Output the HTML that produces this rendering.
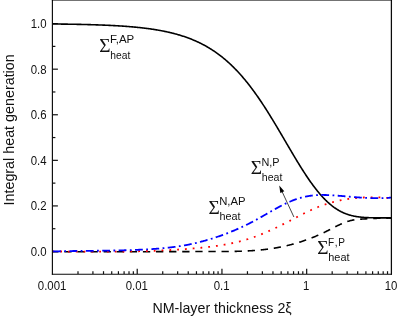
<!DOCTYPE html>
<html><head><meta charset="utf-8"><title>chart</title>
<style>
html,body{margin:0;padding:0;background:#fff;}
body{width:399px;height:317px;overflow:hidden;font-family:"Liberation Sans",sans-serif;}
svg{display:block;will-change:transform;}
text{font-family:"Liberation Sans",sans-serif;fill:#111;}
</style></head><body>
<svg width="399" height="317" viewBox="0 0 399 317">
<rect width="399" height="317" fill="#fff"/>
<g stroke="#111" stroke-width="1.2">
<line x1="137.22" y1="274.1" x2="137.22" y2="268.80"/>
<line x1="221.95" y1="274.1" x2="221.95" y2="268.80"/>
<line x1="306.67" y1="274.1" x2="306.67" y2="268.80"/>
<line x1="78.00" y1="274.1" x2="78.00" y2="271.20"/>
<line x1="92.92" y1="274.1" x2="92.92" y2="271.20"/>
<line x1="103.51" y1="274.1" x2="103.51" y2="271.20"/>
<line x1="111.72" y1="274.1" x2="111.72" y2="271.20"/>
<line x1="118.43" y1="274.1" x2="118.43" y2="271.20"/>
<line x1="124.10" y1="274.1" x2="124.10" y2="271.20"/>
<line x1="129.01" y1="274.1" x2="129.01" y2="271.20"/>
<line x1="133.35" y1="274.1" x2="133.35" y2="271.20"/>
<line x1="162.73" y1="274.1" x2="162.73" y2="271.20"/>
<line x1="177.65" y1="274.1" x2="177.65" y2="271.20"/>
<line x1="188.23" y1="274.1" x2="188.23" y2="271.20"/>
<line x1="196.45" y1="274.1" x2="196.45" y2="271.20"/>
<line x1="203.15" y1="274.1" x2="203.15" y2="271.20"/>
<line x1="208.83" y1="274.1" x2="208.83" y2="271.20"/>
<line x1="213.74" y1="274.1" x2="213.74" y2="271.20"/>
<line x1="218.07" y1="274.1" x2="218.07" y2="271.20"/>
<line x1="247.45" y1="274.1" x2="247.45" y2="271.20"/>
<line x1="262.37" y1="274.1" x2="262.37" y2="271.20"/>
<line x1="272.96" y1="274.1" x2="272.96" y2="271.20"/>
<line x1="281.17" y1="274.1" x2="281.17" y2="271.20"/>
<line x1="287.88" y1="274.1" x2="287.88" y2="271.20"/>
<line x1="293.55" y1="274.1" x2="293.55" y2="271.20"/>
<line x1="298.46" y1="274.1" x2="298.46" y2="271.20"/>
<line x1="302.80" y1="274.1" x2="302.80" y2="271.20"/>
<line x1="332.18" y1="274.1" x2="332.18" y2="271.20"/>
<line x1="347.10" y1="274.1" x2="347.10" y2="271.20"/>
<line x1="357.68" y1="274.1" x2="357.68" y2="271.20"/>
<line x1="365.90" y1="274.1" x2="365.90" y2="271.20"/>
<line x1="372.60" y1="274.1" x2="372.60" y2="271.20"/>
<line x1="378.28" y1="274.1" x2="378.28" y2="271.20"/>
<line x1="383.19" y1="274.1" x2="383.19" y2="271.20"/>
<line x1="387.52" y1="274.1" x2="387.52" y2="271.20"/>
<line x1="52.5" y1="251.50" x2="57.9" y2="251.50"/>
<line x1="52.5" y1="228.71" x2="55.4" y2="228.71"/>
<line x1="52.5" y1="205.92" x2="57.9" y2="205.92"/>
<line x1="52.5" y1="183.13" x2="55.4" y2="183.13"/>
<line x1="52.5" y1="160.34" x2="57.9" y2="160.34"/>
<line x1="52.5" y1="137.55" x2="55.4" y2="137.55"/>
<line x1="52.5" y1="114.76" x2="57.9" y2="114.76"/>
<line x1="52.5" y1="91.97" x2="55.4" y2="91.97"/>
<line x1="52.5" y1="69.18" x2="57.9" y2="69.18"/>
<line x1="52.5" y1="46.39" x2="55.4" y2="46.39"/>
<line x1="52.5" y1="23.60" x2="57.9" y2="23.60"/>
</g>
<g fill="none" stroke-linejoin="round">
<path d="M52.50,23.98 L53.18,23.99 L53.86,23.99 L54.54,24.00 L55.22,24.01 L55.90,24.02 L56.57,24.02 L57.25,24.03 L57.93,24.04 L58.61,24.05 L59.29,24.06 L59.97,24.06 L60.65,24.07 L61.33,24.08 L62.01,24.09 L62.69,24.10 L63.37,24.11 L64.05,24.12 L64.72,24.13 L65.40,24.14 L66.08,24.15 L66.76,24.16 L67.44,24.17 L68.12,24.18 L68.80,24.19 L69.48,24.20 L70.16,24.21 L70.84,24.22 L71.52,24.24 L72.20,24.25 L72.87,24.26 L73.55,24.27 L74.23,24.28 L74.91,24.30 L75.59,24.31 L76.27,24.32 L76.95,24.34 L77.63,24.35 L78.31,24.36 L78.99,24.38 L79.67,24.39 L80.35,24.41 L81.02,24.42 L81.70,24.44 L82.38,24.45 L83.06,24.47 L83.74,24.48 L84.42,24.50 L85.10,24.52 L85.78,24.53 L86.46,24.55 L87.14,24.57 L87.82,24.59 L88.50,24.61 L89.17,24.62 L89.85,24.64 L90.53,24.66 L91.21,24.68 L91.89,24.70 L92.57,24.72 L93.25,24.74 L93.93,24.77 L94.61,24.79 L95.29,24.81 L95.97,24.83 L96.65,24.85 L97.32,24.88 L98.00,24.90 L98.68,24.93 L99.36,24.95 L100.04,24.98 L100.72,25.00 L101.40,25.03 L102.08,25.05 L102.76,25.08 L103.44,25.11 L104.12,25.14 L104.80,25.16 L105.47,25.19 L106.15,25.22 L106.83,25.25 L107.51,25.28 L108.19,25.31 L108.87,25.35 L109.55,25.38 L110.23,25.41 L110.91,25.44 L111.59,25.48 L112.27,25.51 L112.95,25.55 L113.62,25.58 L114.30,25.62 L114.98,25.66 L115.66,25.70 L116.34,25.74 L117.02,25.77 L117.70,25.82 L118.38,25.86 L119.06,25.90 L119.74,25.94 L120.42,25.98 L121.09,26.03 L121.77,26.07 L122.45,26.12 L123.13,26.16 L123.81,26.21 L124.49,26.26 L125.17,26.31 L125.85,26.36 L126.53,26.41 L127.21,26.46 L127.89,26.51 L128.57,26.57 L129.24,26.62 L129.92,26.68 L130.60,26.73 L131.28,26.79 L131.96,26.85 L132.64,26.91 L133.32,26.97 L134.00,27.03 L134.68,27.10 L135.36,27.16 L136.04,27.23 L136.72,27.29 L137.39,27.36 L138.07,27.43 L138.75,27.50 L139.43,27.57 L140.11,27.65 L140.79,27.72 L141.47,27.80 L142.15,27.87 L142.83,27.95 L143.51,28.03 L144.19,28.11 L144.87,28.19 L145.54,28.28 L146.22,28.36 L146.90,28.45 L147.58,28.54 L148.26,28.63 L148.94,28.72 L149.62,28.82 L150.30,28.91 L150.98,29.01 L151.66,29.11 L152.34,29.21 L153.02,29.31 L153.69,29.41 L154.37,29.52 L155.05,29.63 L155.73,29.74 L156.41,29.85 L157.09,29.96 L157.77,30.08 L158.45,30.20 L159.13,30.32 L159.81,30.44 L160.49,30.56 L161.17,30.69 L161.84,30.82 L162.52,30.95 L163.20,31.08 L163.88,31.22 L164.56,31.35 L165.24,31.50 L165.92,31.64 L166.60,31.78 L167.28,31.93 L167.96,32.08 L168.64,32.23 L169.32,32.39 L169.99,32.55 L170.67,32.71 L171.35,32.87 L172.03,33.04 L172.71,33.21 L173.39,33.38 L174.07,33.56 L174.75,33.74 L175.43,33.92 L176.11,34.10 L176.79,34.29 L177.47,34.48 L178.14,34.68 L178.82,34.88 L179.50,35.08 L180.18,35.28 L180.86,35.49 L181.54,35.70 L182.22,35.92 L182.90,36.14 L183.58,36.36 L184.26,36.58 L184.94,36.81 L185.62,37.05 L186.29,37.29 L186.97,37.53 L187.65,37.77 L188.33,38.03 L189.01,38.28 L189.69,38.54 L190.37,38.80 L191.05,39.07 L191.73,39.34 L192.41,39.62 L193.09,39.90 L193.76,40.18 L194.44,40.47 L195.12,40.77 L195.80,41.06 L196.48,41.37 L197.16,41.68 L197.84,41.99 L198.52,42.31 L199.20,42.64 L199.88,42.97 L200.56,43.30 L201.24,43.64 L201.91,43.99 L202.59,44.34 L203.27,44.69 L203.95,45.05 L204.63,45.42 L205.31,45.80 L205.99,46.17 L206.67,46.56 L207.35,46.95 L208.03,47.35 L208.71,47.75 L209.39,48.16 L210.06,48.58 L210.74,49.00 L211.42,49.43 L212.10,49.86 L212.78,50.30 L213.46,50.75 L214.14,51.20 L214.82,51.66 L215.50,52.13 L216.18,52.61 L216.86,53.09 L217.54,53.58 L218.21,54.07 L218.89,54.58 L219.57,55.09 L220.25,55.60 L220.93,56.13 L221.61,56.66 L222.29,57.20 L222.97,57.75 L223.65,58.30 L224.33,58.86 L225.01,59.43 L225.69,60.01 L226.36,60.60 L227.04,61.19 L227.72,61.79 L228.40,62.40 L229.08,63.02 L229.76,63.64 L230.44,64.28 L231.12,64.92 L231.80,65.57 L232.48,66.23 L233.16,66.89 L233.84,67.57 L234.51,68.25 L235.19,68.94 L235.87,69.64 L236.55,70.35 L237.23,71.07 L237.91,71.79 L238.59,72.53 L239.27,73.27 L239.95,74.02 L240.63,74.78 L241.31,75.55 L241.99,76.33 L242.66,77.12 L243.34,77.91 L244.02,78.71 L244.70,79.53 L245.38,80.35 L246.06,81.17 L246.74,82.01 L247.42,82.86 L248.10,83.71 L248.78,84.58 L249.46,85.45 L250.14,86.33 L250.81,87.22 L251.49,88.12 L252.17,89.02 L252.85,89.94 L253.53,90.86 L254.21,91.79 L254.89,92.73 L255.57,93.68 L256.25,94.63 L256.93,95.59 L257.61,96.57 L258.28,97.54 L258.96,98.53 L259.64,99.52 L260.32,100.53 L261.00,101.53 L261.68,102.55 L262.36,103.57 L263.04,104.60 L263.72,105.64 L264.40,106.69 L265.08,107.74 L265.76,108.79 L266.43,109.86 L267.11,110.93 L267.79,112.00 L268.47,113.08 L269.15,114.17 L269.83,115.26 L270.51,116.36 L271.19,117.46 L271.87,118.57 L272.55,119.69 L273.23,120.80 L273.91,121.93 L274.58,123.05 L275.26,124.18 L275.94,125.32 L276.62,126.45 L277.30,127.60 L277.98,128.74 L278.66,129.89 L279.34,131.04 L280.02,132.19 L280.70,133.34 L281.38,134.50 L282.06,135.66 L282.73,136.81 L283.41,137.97 L284.09,139.13 L284.77,140.30 L285.45,141.46 L286.13,142.62 L286.81,143.78 L287.49,144.94 L288.17,146.10 L288.85,147.26 L289.53,148.42 L290.21,149.57 L290.88,150.72 L291.56,151.87 L292.24,153.02 L292.92,154.17 L293.60,155.31 L294.28,156.45 L294.96,157.58 L295.64,158.71 L296.32,159.84 L297.00,160.96 L297.68,162.08 L298.36,163.19 L299.03,164.29 L299.71,165.39 L300.39,166.48 L301.07,167.57 L301.75,168.65 L302.43,169.72 L303.11,170.79 L303.79,171.84 L304.47,172.89 L305.15,173.93 L305.83,174.96 L306.51,175.99 L307.18,177.00 L307.86,178.01 L308.54,179.00 L309.22,179.98 L309.90,180.96 L310.58,181.92 L311.26,182.88 L311.94,183.82 L312.62,184.75 L313.30,185.67 L313.98,186.58 L314.66,187.47 L315.33,188.35 L316.01,189.23 L316.69,190.08 L317.37,190.93 L318.05,191.76 L318.73,192.58 L319.41,193.39 L320.09,194.18 L320.77,194.96 L321.45,195.73 L322.13,196.48 L322.81,197.22 L323.48,197.94 L324.16,198.65 L324.84,199.34 L325.52,200.03 L326.20,200.69 L326.88,201.34 L327.56,201.98 L328.24,202.60 L328.92,203.21 L329.60,203.80 L330.28,204.38 L330.95,204.95 L331.63,205.50 L332.31,206.03 L332.99,206.55 L333.67,207.05 L334.35,207.55 L335.03,208.02 L335.71,208.48 L336.39,208.93 L337.07,209.36 L337.75,209.78 L338.43,210.19 L339.10,210.58 L339.78,210.96 L340.46,211.32 L341.14,211.68 L341.82,212.01 L342.50,212.34 L343.18,212.65 L343.86,212.95 L344.54,213.24 L345.22,213.51 L345.90,213.78 L346.58,214.03 L347.25,214.27 L347.93,214.50 L348.61,214.72 L349.29,214.93 L349.97,215.13 L350.65,215.32 L351.33,215.49 L352.01,215.66 L352.69,215.82 L353.37,215.97 L354.05,216.12 L354.73,216.25 L355.40,216.38 L356.08,216.50 L356.76,216.61 L357.44,216.71 L358.12,216.81 L358.80,216.90 L359.48,216.99 L360.16,217.07 L360.84,217.14 L361.52,217.21 L362.20,217.27 L362.88,217.33 L363.55,217.39 L364.23,217.44 L364.91,217.48 L365.59,217.52 L366.27,217.56 L366.95,217.60 L367.63,217.63 L368.31,217.66 L368.99,217.69 L369.67,217.71 L370.35,217.73 L371.03,217.75 L371.70,217.77 L372.38,217.79 L373.06,217.80 L373.74,217.81 L374.42,217.83 L375.10,217.84 L375.78,217.85 L376.46,217.85 L377.14,217.86 L377.82,217.87 L378.50,217.87 L379.18,217.88 L379.85,217.88 L380.53,217.89 L381.21,217.89 L381.89,217.89 L382.57,217.89 L383.25,217.90 L383.93,217.90 L384.61,217.90 L385.29,217.90 L385.97,217.90 L386.65,217.90 L387.33,217.90 L388.00,217.90 L388.68,217.91 L389.36,217.91 L390.04,217.91 L390.72,217.91 L391.40,217.91" stroke="#000" stroke-width="1.6"/>
<path d="M52.50,251.67 L53.18,251.68 L53.86,251.68 L54.54,251.68 L55.22,251.69 L55.90,251.69 L56.57,251.69 L57.25,251.70 L57.93,251.70 L58.61,251.70 L59.29,251.71 L59.97,251.71 L60.65,251.71 L61.33,251.72 L62.01,251.72 L62.69,251.72 L63.37,251.72 L64.05,251.73 L64.72,251.73 L65.40,251.73 L66.08,251.73 L66.76,251.74 L67.44,251.74 L68.12,251.74 L68.80,251.74 L69.48,251.75 L70.16,251.75 L70.84,251.75 L71.52,251.75 L72.20,251.75 L72.87,251.76 L73.55,251.76 L74.23,251.76 L74.91,251.76 L75.59,251.76 L76.27,251.76 L76.95,251.76 L77.63,251.77 L78.31,251.77 L78.99,251.77 L79.67,251.77 L80.35,251.77 L81.02,251.77 L81.70,251.77 L82.38,251.77 L83.06,251.78 L83.74,251.78 L84.42,251.78 L85.10,251.78 L85.78,251.78 L86.46,251.78 L87.14,251.78 L87.82,251.78 L88.50,251.78 L89.17,251.78 L89.85,251.78 L90.53,251.78 L91.21,251.78 L91.89,251.78 L92.57,251.78 L93.25,251.79 L93.93,251.79 L94.61,251.79 L95.29,251.79 L95.97,251.79 L96.65,251.79 L97.32,251.79 L98.00,251.79 L98.68,251.79 L99.36,251.79 L100.04,251.79 L100.72,251.79 L101.40,251.78 L102.08,251.78 L102.76,251.78 L103.44,251.78 L104.12,251.78 L104.80,251.78 L105.47,251.78 L106.15,251.78 L106.83,251.78 L107.51,251.78 L108.19,251.78 L108.87,251.78 L109.55,251.78 L110.23,251.78 L110.91,251.78 L111.59,251.78 L112.27,251.78 L112.95,251.77 L113.62,251.77 L114.30,251.77 L114.98,251.77 L115.66,251.77 L116.34,251.77 L117.02,251.77 L117.70,251.77 L118.38,251.77 L119.06,251.77 L119.74,251.76 L120.42,251.76 L121.09,251.76 L121.77,251.76 L122.45,251.76 L123.13,251.76 L123.81,251.76 L124.49,251.76 L125.17,251.75 L125.85,251.75 L126.53,251.75 L127.21,251.75 L127.89,251.75 L128.57,251.75 L129.24,251.75 L129.92,251.74 L130.60,251.74 L131.28,251.74 L131.96,251.74 L132.64,251.74 L133.32,251.74 L134.00,251.73 L134.68,251.73 L135.36,251.73 L136.04,251.73 L136.72,251.73 L137.39,251.73 L138.07,251.72 L138.75,251.72 L139.43,251.72 L140.11,251.72 L140.79,251.72 L141.47,251.72 L142.15,251.71 L142.83,251.71 L143.51,251.71 L144.19,251.71 L144.87,251.71 L145.54,251.70 L146.22,251.70 L146.90,251.70 L147.58,251.70 L148.26,251.70 L148.94,251.69 L149.62,251.69 L150.30,251.69 L150.98,251.69 L151.66,251.69 L152.34,251.68 L153.02,251.68 L153.69,251.68 L154.37,251.68 L155.05,251.68 L155.73,251.67 L156.41,251.67 L157.09,251.67 L157.77,251.67 L158.45,251.67 L159.13,251.66 L159.81,251.66 L160.49,251.66 L161.17,251.66 L161.84,251.66 L162.52,251.65 L163.20,251.65 L163.88,251.65 L164.56,251.65 L165.24,251.65 L165.92,251.65 L166.60,251.64 L167.28,251.64 L167.96,251.64 L168.64,251.64 L169.32,251.64 L169.99,251.63 L170.67,251.63 L171.35,251.63 L172.03,251.63 L172.71,251.63 L173.39,251.62 L174.07,251.62 L174.75,251.62 L175.43,251.62 L176.11,251.62 L176.79,251.61 L177.47,251.61 L178.14,251.61 L178.82,251.61 L179.50,251.61 L180.18,251.61 L180.86,251.60 L181.54,251.60 L182.22,251.60 L182.90,251.60 L183.58,251.60 L184.26,251.59 L184.94,251.59 L185.62,251.59 L186.29,251.59 L186.97,251.59 L187.65,251.59 L188.33,251.59 L189.01,251.58 L189.69,251.58 L190.37,251.58 L191.05,251.58 L191.73,251.58 L192.41,251.58 L193.09,251.57 L193.76,251.57 L194.44,251.57 L195.12,251.57 L195.80,251.57 L196.48,251.57 L197.16,251.57 L197.84,251.57 L198.52,251.56 L199.20,251.56 L199.88,251.56 L200.56,251.56 L201.24,251.56 L201.91,251.56 L202.59,251.56 L203.27,251.56 L203.95,251.55 L204.63,251.55 L205.31,251.55 L205.99,251.55 L206.67,251.55 L207.35,251.55 L208.03,251.55 L208.71,251.55 L209.39,251.55 L210.06,251.55 L210.74,251.55 L211.42,251.55 L212.10,251.54 L212.78,251.54 L213.46,251.54 L214.14,251.54 L214.82,251.54 L215.50,251.54 L216.18,251.54 L216.86,251.54 L217.54,251.54 L218.21,251.54 L218.89,251.54 L219.57,251.53 L220.25,251.53 L220.93,251.53 L221.61,251.53 L222.29,251.52 L222.97,251.52 L223.65,251.52 L224.33,251.51 L225.01,251.51 L225.69,251.50 L226.36,251.50 L227.04,251.49 L227.72,251.48 L228.40,251.48 L229.08,251.47 L229.76,251.46 L230.44,251.45 L231.12,251.44 L231.80,251.43 L232.48,251.42 L233.16,251.41 L233.84,251.39 L234.51,251.38 L235.19,251.36 L235.87,251.35 L236.55,251.33 L237.23,251.31 L237.91,251.30 L238.59,251.28 L239.27,251.26 L239.95,251.23 L240.63,251.21 L241.31,251.19 L241.99,251.16 L242.66,251.14 L243.34,251.11 L244.02,251.08 L244.70,251.05 L245.38,251.02 L246.06,250.99 L246.74,250.95 L247.42,250.92 L248.10,250.88 L248.78,250.85 L249.46,250.81 L250.14,250.77 L250.81,250.72 L251.49,250.68 L252.17,250.64 L252.85,250.59 L253.53,250.54 L254.21,250.49 L254.89,250.44 L255.57,250.39 L256.25,250.33 L256.93,250.27 L257.61,250.21 L258.28,250.15 L258.96,250.09 L259.64,250.03 L260.32,249.96 L261.00,249.89 L261.68,249.83 L262.36,249.75 L263.04,249.68 L263.72,249.60 L264.40,249.53 L265.08,249.45 L265.76,249.37 L266.43,249.28 L267.11,249.20 L267.79,249.11 L268.47,249.02 L269.15,248.92 L269.83,248.83 L270.51,248.73 L271.19,248.63 L271.87,248.53 L272.55,248.43 L273.23,248.32 L273.91,248.21 L274.58,248.10 L275.26,247.99 L275.94,247.87 L276.62,247.75 L277.30,247.63 L277.98,247.51 L278.66,247.38 L279.34,247.25 L280.02,247.12 L280.70,246.99 L281.38,246.85 L282.06,246.71 L282.73,246.57 L283.41,246.42 L284.09,246.27 L284.77,246.12 L285.45,245.97 L286.13,245.82 L286.81,245.66 L287.49,245.50 L288.17,245.33 L288.85,245.17 L289.53,245.00 L290.21,244.83 L290.88,244.65 L291.56,244.47 L292.24,244.29 L292.92,244.11 L293.60,243.92 L294.28,243.73 L294.96,243.54 L295.64,243.35 L296.32,243.15 L297.00,242.95 L297.68,242.75 L298.36,242.54 L299.03,242.33 L299.71,242.12 L300.39,241.90 L301.07,241.69 L301.75,241.47 L302.43,241.24 L303.11,241.02 L303.79,240.79 L304.47,240.55 L305.15,240.32 L305.83,240.08 L306.51,239.84 L307.18,239.59 L307.86,239.34 L308.54,239.09 L309.22,238.84 L309.90,238.58 L310.58,238.32 L311.26,238.05 L311.94,237.79 L312.62,237.52 L313.30,237.24 L313.98,236.97 L314.66,236.69 L315.33,236.40 L316.01,236.12 L316.69,235.83 L317.37,235.54 L318.05,235.24 L318.73,234.94 L319.41,234.64 L320.09,234.33 L320.77,234.02 L321.45,233.71 L322.13,233.40 L322.81,233.08 L323.48,232.75 L324.16,232.43 L324.84,232.10 L325.52,231.77 L326.20,231.43 L326.88,231.09 L327.56,230.75 L328.24,230.41 L328.92,230.06 L329.60,229.71 L330.28,229.36 L330.95,229.01 L331.63,228.66 L332.31,228.31 L332.99,227.96 L333.67,227.61 L334.35,227.27 L335.03,226.92 L335.71,226.58 L336.39,226.24 L337.07,225.90 L337.75,225.57 L338.43,225.24 L339.10,224.92 L339.78,224.60 L340.46,224.29 L341.14,223.98 L341.82,223.68 L342.50,223.39 L343.18,223.11 L343.86,222.83 L344.54,222.56 L345.22,222.30 L345.90,222.05 L346.58,221.81 L347.25,221.58 L347.93,221.36 L348.61,221.15 L349.29,220.95 L349.97,220.76 L350.65,220.59 L351.33,220.43 L352.01,220.28 L352.69,220.14 L353.37,220.02 L354.05,219.90 L354.73,219.79 L355.40,219.70 L356.08,219.61 L356.76,219.53 L357.44,219.45 L358.12,219.38 L358.80,219.32 L359.48,219.26 L360.16,219.21 L360.84,219.16 L361.52,219.11 L362.20,219.07 L362.88,219.03 L363.55,218.98 L364.23,218.94 L364.91,218.90 L365.59,218.86 L366.27,218.83 L366.95,218.79 L367.63,218.75 L368.31,218.71 L368.99,218.68 L369.67,218.64 L370.35,218.60 L371.03,218.57 L371.70,218.54 L372.38,218.50 L373.06,218.47 L373.74,218.44 L374.42,218.41 L375.10,218.38 L375.78,218.36 L376.46,218.33 L377.14,218.30 L377.82,218.28 L378.50,218.26 L379.18,218.23 L379.85,218.21 L380.53,218.19 L381.21,218.18 L381.89,218.16 L382.57,218.14 L383.25,218.13 L383.93,218.12 L384.61,218.11 L385.29,218.10 L385.97,218.09 L386.65,218.08 L387.33,218.08 L388.00,218.07 L388.68,218.07 L389.36,218.07 L390.04,218.08 L390.72,218.08 L391.40,218.09" stroke="#000" stroke-width="1.6" stroke-dasharray="7.3 5.8" stroke-dashoffset="1.29"/>
<path d="M391.40,198.17 L390.72,198.11 L390.04,198.06 L389.36,198.01 L388.68,197.96 L388.00,197.91 L387.33,197.86 L386.65,197.82 L385.97,197.77 L385.29,197.73 L384.61,197.69 L383.93,197.65 L383.25,197.61 L382.57,197.58 L381.89,197.55 L381.21,197.52 L380.53,197.49 L379.85,197.46 L379.18,197.44 L378.50,197.41 L377.82,197.39 L377.14,197.38 L376.46,197.36 L375.78,197.35 L375.10,197.33 L374.42,197.33 L373.74,197.32 L373.06,197.31 L372.38,197.31 L371.70,197.31 L371.03,197.31 L370.35,197.32 L369.67,197.32 L368.99,197.33 L368.31,197.35 L367.63,197.36 L366.95,197.38 L366.27,197.40 L365.59,197.42 L364.91,197.44 L364.23,197.47 L363.55,197.50 L362.88,197.54 L362.20,197.57 L361.52,197.61 L360.84,197.65 L360.16,197.69 L359.48,197.74 L358.80,197.79 L358.12,197.84 L357.44,197.90 L356.76,197.96 L356.08,198.02 L355.40,198.08 L354.73,198.15 L354.05,198.22 L353.37,198.29 L352.69,198.37 L352.01,198.45 L351.33,198.53 L350.65,198.62 L349.97,198.71 L349.29,198.80 L348.61,198.90 L347.93,199.00 L347.25,199.10 L346.58,199.20 L345.90,199.31 L345.22,199.43 L344.54,199.54 L343.86,199.66 L343.18,199.78 L342.50,199.91 L341.82,200.04 L341.14,200.17 L340.46,200.31 L339.78,200.45 L339.10,200.60 L338.43,200.75 L337.75,200.90 L337.07,201.05 L336.39,201.21 L335.71,201.37 L335.03,201.54 L334.35,201.71 L333.67,201.89 L332.99,202.07 L332.31,202.25 L331.63,202.43 L330.95,202.62 L330.28,202.82 L329.60,203.02 L328.92,203.22 L328.24,203.43 L327.56,203.64 L326.88,203.85 L326.20,204.07 L325.52,204.29 L324.84,204.52 L324.16,204.75 L323.48,204.99 L322.81,205.23 L322.13,205.47 L321.45,205.72 L320.77,205.97 L320.09,206.23 L319.41,206.49 L318.73,206.76 L318.05,207.03 L317.37,207.30 L316.69,207.58 L316.01,207.87 L315.33,208.16 L314.66,208.45 L313.98,208.74 L313.30,209.04 L312.62,209.35 L311.94,209.66 L311.26,209.97 L310.58,210.28 L309.90,210.60 L309.22,210.92 L308.54,211.24 L307.86,211.57 L307.18,211.90 L306.51,212.23 L305.83,212.56 L305.15,212.90 L304.47,213.23 L303.79,213.57 L303.11,213.91 L302.43,214.26 L301.75,214.60 L301.07,214.95 L300.39,215.30 L299.71,215.65 L299.03,216.00 L298.36,216.35 L297.68,216.70 L297.00,217.05 L296.32,217.41 L295.64,217.76 L294.96,218.12 L294.28,218.47 L293.60,218.82 L292.92,219.18 L292.24,219.53 L291.56,219.89 L290.88,220.24 L290.21,220.60 L289.53,220.95 L288.85,221.30 L288.17,221.65 L287.49,222.00 L286.81,222.35 L286.13,222.70 L285.45,223.05 L284.77,223.39 L284.09,223.74 L283.41,224.08 L282.73,224.42 L282.06,224.77 L281.38,225.11 L280.70,225.44 L280.02,225.78 L279.34,226.12 L278.66,226.45 L277.98,226.78 L277.30,227.12 L276.62,227.45 L275.94,227.77 L275.26,228.10 L274.58,228.42 L273.91,228.74 L273.23,229.06 L272.55,229.38 L271.87,229.70 L271.19,230.01 L270.51,230.32 L269.83,230.63 L269.15,230.94 L268.47,231.24 L267.79,231.55 L267.11,231.84 L266.43,232.14 L265.76,232.44 L265.08,232.73 L264.40,233.02 L263.72,233.30 L263.04,233.59 L262.36,233.87 L261.68,234.15 L261.00,234.42 L260.32,234.69 L259.64,234.96 L258.96,235.23 L258.28,235.49 L257.61,235.75 L256.93,236.01 L256.25,236.26 L255.57,236.51 L254.89,236.76 L254.21,237.00 L253.53,237.24 L252.85,237.47 L252.17,237.71 L251.49,237.94 L250.81,238.16 L250.14,238.38 L249.46,238.60 L248.78,238.82 L248.10,239.03 L247.42,239.24 L246.74,239.45 L246.06,239.65 L245.38,239.85 L244.70,240.05 L244.02,240.24 L243.34,240.43 L242.66,240.62 L241.99,240.81 L241.31,240.99 L240.63,241.17 L239.95,241.34 L239.27,241.52 L238.59,241.69 L237.91,241.86 L237.23,242.02 L236.55,242.18 L235.87,242.35 L235.19,242.50 L234.51,242.66 L233.84,242.81 L233.16,242.96 L232.48,243.11 L231.80,243.25 L231.12,243.39 L230.44,243.53 L229.76,243.67 L229.08,243.81 L228.40,243.94 L227.72,244.07 L227.04,244.20 L226.36,244.33 L225.69,244.45 L225.01,244.57 L224.33,244.69 L223.65,244.81 L222.97,244.93 L222.29,245.04 L221.61,245.15 L220.93,245.26 L220.25,245.37 L219.57,245.47 L218.89,245.58 L218.21,245.68 L217.54,245.78 L216.86,245.88 L216.18,245.98 L215.50,246.07 L214.82,246.17 L214.14,246.26 L213.46,246.35 L212.78,246.44 L212.10,246.52 L211.42,246.61 L210.74,246.69 L210.06,246.78 L209.39,246.86 L208.71,246.94 L208.03,247.02 L207.35,247.09 L206.67,247.17 L205.99,247.25 L205.31,247.32 L204.63,247.39 L203.95,247.46 L203.27,247.53 L202.59,247.60 L201.91,247.67 L201.24,247.74 L200.56,247.80 L199.88,247.87 L199.20,247.93 L198.52,247.99 L197.84,248.06 L197.16,248.12 L196.48,248.18 L195.80,248.24 L195.12,248.30 L194.44,248.35 L193.76,248.41 L193.09,248.47 L192.41,248.52 L191.73,248.58 L191.05,248.63 L190.37,248.69 L189.69,248.74 L189.01,248.79 L188.33,248.85 L187.65,248.90 L186.97,248.95 L186.29,249.00 L185.62,249.05 L184.94,249.10 L184.26,249.15 L183.58,249.20 L182.90,249.24 L182.22,249.29 L181.54,249.34 L180.86,249.38 L180.18,249.43 L179.50,249.47 L178.82,249.52 L178.14,249.56 L177.47,249.60 L176.79,249.65 L176.11,249.69 L175.43,249.73 L174.75,249.77 L174.07,249.81 L173.39,249.85 L172.71,249.89 L172.03,249.93 L171.35,249.97 L170.67,250.00 L169.99,250.04 L169.32,250.08 L168.64,250.11 L167.96,250.15 L167.28,250.18 L166.60,250.22 L165.92,250.25 L165.24,250.29 L164.56,250.32 L163.88,250.35 L163.20,250.38 L162.52,250.41 L161.84,250.45 L161.17,250.48 L160.49,250.51 L159.81,250.54 L159.13,250.56 L158.45,250.59 L157.77,250.62 L157.09,250.65 L156.41,250.68 L155.73,250.70 L155.05,250.73 L154.37,250.76 L153.69,250.78 L153.02,250.81 L152.34,250.83 L151.66,250.85 L150.98,250.88 L150.30,250.90 L149.62,250.92 L148.94,250.95 L148.26,250.97 L147.58,250.99 L146.90,251.01 L146.22,251.03 L145.54,251.05 L144.87,251.07 L144.19,251.09 L143.51,251.11 L142.83,251.13 L142.15,251.15 L141.47,251.17 L140.79,251.18 L140.11,251.20 L139.43,251.22 L138.75,251.23 L138.07,251.25 L137.39,251.27 L136.72,251.28 L136.04,251.30 L135.36,251.31 L134.68,251.33 L134.00,251.34 L133.32,251.35 L132.64,251.37 L131.96,251.38 L131.28,251.39 L130.60,251.40 L129.92,251.42 L129.24,251.43 L128.57,251.44 L127.89,251.45 L127.21,251.46 L126.53,251.47 L125.85,251.48 L125.17,251.49 L124.49,251.50 L123.81,251.51 L123.13,251.52 L122.45,251.53 L121.77,251.53 L121.09,251.54 L120.42,251.55 L119.74,251.56 L119.06,251.56 L118.38,251.57 L117.70,251.58 L117.02,251.58 L116.34,251.59 L115.66,251.60 L114.98,251.60 L114.30,251.61 L113.62,251.61 L112.95,251.62 L112.27,251.62 L111.59,251.63 L110.91,251.63 L110.23,251.63 L109.55,251.64 L108.87,251.64 L108.19,251.64 L107.51,251.65 L106.83,251.65 L106.15,251.65 L105.47,251.65 L104.80,251.66 L104.12,251.66 L103.44,251.66 L102.76,251.66 L102.08,251.66 L101.40,251.66 L100.72,251.66 L100.04,251.66 L99.36,251.66 L98.68,251.66 L98.00,251.67 L97.32,251.67 L96.65,251.66 L95.97,251.66 L95.29,251.66 L94.61,251.66 L93.93,251.66 L93.25,251.66 L92.57,251.66 L91.89,251.66 L91.21,251.66 L90.53,251.66 L89.85,251.65 L89.17,251.65 L88.50,251.65 L87.82,251.65 L87.14,251.65 L86.46,251.64 L85.78,251.64 L85.10,251.64 L84.42,251.64 L83.74,251.63 L83.06,251.63 L82.38,251.63 L81.70,251.62 L81.02,251.62 L80.35,251.62 L79.67,251.61 L78.99,251.61 L78.31,251.61 L77.63,251.60 L76.95,251.60 L76.27,251.60 L75.59,251.59 L74.91,251.59 L74.23,251.59 L73.55,251.58 L72.87,251.58 L72.20,251.57 L71.52,251.57 L70.84,251.57 L70.16,251.56 L69.48,251.56 L68.80,251.55 L68.12,251.55 L67.44,251.54 L66.76,251.54 L66.08,251.54 L65.40,251.53 L64.72,251.53 L64.05,251.52 L63.37,251.52 L62.69,251.51 L62.01,251.51 L61.33,251.50 L60.65,251.50 L59.97,251.50 L59.29,251.49 L58.61,251.49 L57.93,251.48 L57.25,251.48 L56.57,251.47 L55.90,251.47 L55.22,251.47 L54.54,251.46 L53.86,251.46 L53.18,251.45 L52.50,251.45" stroke="#ff0000" stroke-width="1.8" stroke-dasharray="1.8 6.0" stroke-dashoffset="4.48"/>
<path d="M391.40,197.56 L390.72,197.62 L390.04,197.68 L389.36,197.74 L388.68,197.80 L388.00,197.85 L387.33,197.89 L386.65,197.94 L385.97,197.98 L385.29,198.01 L384.61,198.05 L383.93,198.08 L383.25,198.10 L382.57,198.13 L381.89,198.15 L381.21,198.17 L380.53,198.18 L379.85,198.19 L379.18,198.20 L378.50,198.21 L377.82,198.21 L377.14,198.21 L376.46,198.21 L375.78,198.21 L375.10,198.20 L374.42,198.19 L373.74,198.18 L373.06,198.17 L372.38,198.15 L371.70,198.13 L371.03,198.11 L370.35,198.09 L369.67,198.07 L368.99,198.04 L368.31,198.01 L367.63,197.98 L366.95,197.95 L366.27,197.92 L365.59,197.88 L364.91,197.85 L364.23,197.81 L363.55,197.77 L362.88,197.73 L362.20,197.68 L361.52,197.64 L360.84,197.59 L360.16,197.55 L359.48,197.50 L358.80,197.45 L358.12,197.40 L357.44,197.35 L356.76,197.30 L356.08,197.24 L355.40,197.19 L354.73,197.13 L354.05,197.08 L353.37,197.02 L352.69,196.97 L352.01,196.91 L351.33,196.85 L350.65,196.79 L349.97,196.73 L349.29,196.68 L348.61,196.62 L347.93,196.56 L347.25,196.50 L346.58,196.44 L345.90,196.38 L345.22,196.32 L344.54,196.26 L343.86,196.20 L343.18,196.14 L342.50,196.08 L341.82,196.02 L341.14,195.96 L340.46,195.91 L339.78,195.85 L339.10,195.79 L338.43,195.74 L337.75,195.68 L337.07,195.63 L336.39,195.57 L335.71,195.52 L335.03,195.47 L334.35,195.42 L333.67,195.38 L332.99,195.33 L332.31,195.29 L331.63,195.25 L330.95,195.21 L330.28,195.17 L329.60,195.14 L328.92,195.11 L328.24,195.08 L327.56,195.05 L326.88,195.03 L326.20,195.01 L325.52,195.00 L324.84,194.98 L324.16,194.98 L323.48,194.97 L322.81,194.97 L322.13,194.97 L321.45,194.98 L320.77,194.99 L320.09,195.00 L319.41,195.02 L318.73,195.05 L318.05,195.08 L317.37,195.11 L316.69,195.15 L316.01,195.20 L315.33,195.25 L314.66,195.30 L313.98,195.36 L313.30,195.43 L312.62,195.50 L311.94,195.58 L311.26,195.66 L310.58,195.75 L309.90,195.85 L309.22,195.95 L308.54,196.06 L307.86,196.18 L307.18,196.30 L306.51,196.43 L305.83,196.57 L305.15,196.71 L304.47,196.86 L303.79,197.02 L303.11,197.18 L302.43,197.35 L301.75,197.53 L301.07,197.71 L300.39,197.90 L299.71,198.10 L299.03,198.30 L298.36,198.51 L297.68,198.72 L297.00,198.95 L296.32,199.18 L295.64,199.41 L294.96,199.65 L294.28,199.90 L293.60,200.16 L292.92,200.42 L292.24,200.68 L291.56,200.96 L290.88,201.24 L290.21,201.52 L289.53,201.82 L288.85,202.11 L288.17,202.42 L287.49,202.72 L286.81,203.04 L286.13,203.36 L285.45,203.68 L284.77,204.01 L284.09,204.34 L283.41,204.68 L282.73,205.02 L282.06,205.36 L281.38,205.71 L280.70,206.07 L280.02,206.42 L279.34,206.78 L278.66,207.15 L277.98,207.51 L277.30,207.88 L276.62,208.25 L275.94,208.63 L275.26,209.00 L274.58,209.38 L273.91,209.76 L273.23,210.14 L272.55,210.53 L271.87,210.91 L271.19,211.30 L270.51,211.69 L269.83,212.07 L269.15,212.46 L268.47,212.85 L267.79,213.24 L267.11,213.63 L266.43,214.02 L265.76,214.41 L265.08,214.80 L264.40,215.19 L263.72,215.57 L263.04,215.96 L262.36,216.34 L261.68,216.73 L261.00,217.11 L260.32,217.49 L259.64,217.87 L258.96,218.25 L258.28,218.63 L257.61,219.00 L256.93,219.38 L256.25,219.75 L255.57,220.12 L254.89,220.49 L254.21,220.85 L253.53,221.22 L252.85,221.58 L252.17,221.94 L251.49,222.29 L250.81,222.65 L250.14,223.00 L249.46,223.35 L248.78,223.69 L248.10,224.04 L247.42,224.37 L246.74,224.71 L246.06,225.05 L245.38,225.38 L244.70,225.70 L244.02,226.03 L243.34,226.35 L242.66,226.67 L241.99,226.99 L241.31,227.30 L240.63,227.62 L239.95,227.93 L239.27,228.23 L238.59,228.54 L237.91,228.84 L237.23,229.14 L236.55,229.43 L235.87,229.73 L235.19,230.02 L234.51,230.31 L233.84,230.59 L233.16,230.88 L232.48,231.16 L231.80,231.44 L231.12,231.71 L230.44,231.99 L229.76,232.26 L229.08,232.53 L228.40,232.79 L227.72,233.06 L227.04,233.32 L226.36,233.58 L225.69,233.84 L225.01,234.09 L224.33,234.34 L223.65,234.60 L222.97,234.84 L222.29,235.09 L221.61,235.33 L220.93,235.58 L220.25,235.82 L219.57,236.06 L218.89,236.29 L218.21,236.52 L217.54,236.76 L216.86,236.99 L216.18,237.21 L215.50,237.44 L214.82,237.66 L214.14,237.88 L213.46,238.10 L212.78,238.32 L212.10,238.53 L211.42,238.75 L210.74,238.96 L210.06,239.16 L209.39,239.37 L208.71,239.57 L208.03,239.78 L207.35,239.97 L206.67,240.17 L205.99,240.37 L205.31,240.56 L204.63,240.75 L203.95,240.94 L203.27,241.12 L202.59,241.31 L201.91,241.49 L201.24,241.67 L200.56,241.85 L199.88,242.02 L199.20,242.19 L198.52,242.36 L197.84,242.53 L197.16,242.70 L196.48,242.86 L195.80,243.02 L195.12,243.18 L194.44,243.34 L193.76,243.49 L193.09,243.64 L192.41,243.79 L191.73,243.94 L191.05,244.09 L190.37,244.23 L189.69,244.37 L189.01,244.51 L188.33,244.64 L187.65,244.78 L186.97,244.91 L186.29,245.04 L185.62,245.16 L184.94,245.29 L184.26,245.41 L183.58,245.53 L182.90,245.64 L182.22,245.76 L181.54,245.87 L180.86,245.98 L180.18,246.09 L179.50,246.20 L178.82,246.30 L178.14,246.40 L177.47,246.50 L176.79,246.60 L176.11,246.70 L175.43,246.79 L174.75,246.88 L174.07,246.97 L173.39,247.06 L172.71,247.15 L172.03,247.23 L171.35,247.32 L170.67,247.40 L169.99,247.48 L169.32,247.56 L168.64,247.63 L167.96,247.71 L167.28,247.78 L166.60,247.85 L165.92,247.92 L165.24,247.99 L164.56,248.06 L163.88,248.13 L163.20,248.19 L162.52,248.25 L161.84,248.31 L161.17,248.37 L160.49,248.43 L159.81,248.49 L159.13,248.55 L158.45,248.60 L157.77,248.65 L157.09,248.71 L156.41,248.76 L155.73,248.81 L155.05,248.86 L154.37,248.91 L153.69,248.95 L153.02,249.00 L152.34,249.04 L151.66,249.09 L150.98,249.13 L150.30,249.17 L149.62,249.21 L148.94,249.25 L148.26,249.29 L147.58,249.33 L146.90,249.37 L146.22,249.41 L145.54,249.44 L144.87,249.48 L144.19,249.52 L143.51,249.55 L142.83,249.58 L142.15,249.62 L141.47,249.65 L140.79,249.68 L140.11,249.71 L139.43,249.74 L138.75,249.77 L138.07,249.80 L137.39,249.83 L136.72,249.86 L136.04,249.88 L135.36,249.91 L134.68,249.94 L134.00,249.96 L133.32,249.99 L132.64,250.01 L131.96,250.04 L131.28,250.06 L130.60,250.08 L129.92,250.11 L129.24,250.13 L128.57,250.15 L127.89,250.17 L127.21,250.19 L126.53,250.21 L125.85,250.23 L125.17,250.25 L124.49,250.27 L123.81,250.28 L123.13,250.30 L122.45,250.32 L121.77,250.34 L121.09,250.35 L120.42,250.37 L119.74,250.38 L119.06,250.40 L118.38,250.41 L117.70,250.43 L117.02,250.44 L116.34,250.46 L115.66,250.47 L114.98,250.48 L114.30,250.50 L113.62,250.51 L112.95,250.52 L112.27,250.53 L111.59,250.54 L110.91,250.56 L110.23,250.57 L109.55,250.58 L108.87,250.59 L108.19,250.60 L107.51,250.61 L106.83,250.62 L106.15,250.63 L105.47,250.64 L104.80,250.65 L104.12,250.66 L103.44,250.66 L102.76,250.67 L102.08,250.68 L101.40,250.69 L100.72,250.70 L100.04,250.71 L99.36,250.71 L98.68,250.72 L98.00,250.73 L97.32,250.74 L96.65,250.75 L95.97,250.75 L95.29,250.76 L94.61,250.77 L93.93,250.78 L93.25,250.78 L92.57,250.79 L91.89,250.80 L91.21,250.80 L90.53,250.81 L89.85,250.82 L89.17,250.83 L88.50,250.83 L87.82,250.84 L87.14,250.85 L86.46,250.85 L85.78,250.86 L85.10,250.87 L84.42,250.88 L83.74,250.88 L83.06,250.89 L82.38,250.90 L81.70,250.91 L81.02,250.92 L80.35,250.92 L79.67,250.93 L78.99,250.94 L78.31,250.95 L77.63,250.96 L76.95,250.97 L76.27,250.97 L75.59,250.98 L74.91,250.99 L74.23,251.00 L73.55,251.01 L72.87,251.02 L72.20,251.03 L71.52,251.04 L70.84,251.05 L70.16,251.06 L69.48,251.07 L68.80,251.09 L68.12,251.10 L67.44,251.11 L66.76,251.12 L66.08,251.13 L65.40,251.15 L64.72,251.16 L64.05,251.17 L63.37,251.19 L62.69,251.20 L62.01,251.22 L61.33,251.23 L60.65,251.25 L59.97,251.26 L59.29,251.28 L58.61,251.29 L57.93,251.31 L57.25,251.33 L56.57,251.35 L55.90,251.36 L55.22,251.38 L54.54,251.40 L53.86,251.42 L53.18,251.44 L52.50,251.46" stroke="#0000ff" stroke-width="1.8" stroke-dasharray="7.8 3.4 1.8 3.4" stroke-dashoffset="3.18"/>
</g>
<g stroke="#0a0a0a" stroke-width="1.25" fill="none">
<line x1="52.4" y1="0" x2="52.4" y2="274.70" stroke-width="1.15"/>
<line x1="391.4" y1="0" x2="391.4" y2="274.70"/>
<line x1="51.875" y1="274.25" x2="392.025" y2="274.25" stroke-width="1.2"/>
</g>
<rect x="51.875" y="0" width="340.15" height="0.55" fill="#000"/>
<g>
<text transform="translate(52.10,289.80) scale(0.905,1)" font-size="12.6" text-anchor="middle" >0.001</text>
<text transform="translate(136.82,289.80) scale(0.905,1)" font-size="12.6" text-anchor="middle" >0.01</text>
<text transform="translate(221.55,289.80) scale(0.905,1)" font-size="12.6" text-anchor="middle" >0.1</text>
<text transform="translate(306.27,289.80) scale(0.905,1)" font-size="12.6" text-anchor="middle" >1</text>
<text transform="translate(391.00,289.80) scale(0.905,1)" font-size="12.6" text-anchor="middle" >10</text>
<text transform="translate(46.50,255.90) scale(0.905,1)" font-size="12.6" text-anchor="end" >0.0</text>
<text transform="translate(46.50,210.32) scale(0.905,1)" font-size="12.6" text-anchor="end" >0.2</text>
<text transform="translate(46.50,164.74) scale(0.905,1)" font-size="12.6" text-anchor="end" >0.4</text>
<text transform="translate(46.50,119.16) scale(0.905,1)" font-size="12.6" text-anchor="end" >0.6</text>
<text transform="translate(46.50,73.58) scale(0.905,1)" font-size="12.6" text-anchor="end" >0.8</text>
<text transform="translate(46.50,28.00) scale(0.905,1)" font-size="12.6" text-anchor="end" >1.0</text>
</g>
<text transform="translate(152.40,312.70) scale(1.018,1)" font-size="14" text-anchor="start" >NM-layer thickness 2ξ</text>
<text transform="translate(14.2,205.5) rotate(-90) scale(1.016,1)" font-size="14.1">Integral heat generation</text>
<text transform="translate(99.20,52.00) scale(1.09,1)" font-size="17.8" style="font-family:'Liberation Serif',serif">Σ</text><text transform="translate(110.00,43.00) scale(1.025,1)" font-size="11.2" text-anchor="start" >F,AP</text><text transform="translate(110.30,58.70) scale(0.92,1)" font-size="11.2" text-anchor="start" >heat</text>
<text transform="translate(250.70,174.40) scale(1.09,1)" font-size="17.8" style="font-family:'Liberation Serif',serif">Σ</text><text transform="translate(261.50,165.70) scale(0.97,1)" font-size="11.2" text-anchor="start" >N,P</text><text transform="translate(261.80,181.00) scale(0.945,1)" font-size="11.2" text-anchor="start" >heat</text>
<text transform="translate(208.40,213.70) scale(1.09,1)" font-size="17.8" style="font-family:'Liberation Serif',serif">Σ</text><text transform="translate(219.20,205.20) scale(1.01,1)" font-size="11.2" text-anchor="start" >N,AP</text><text transform="translate(219.50,219.80) scale(0.965,1)" font-size="11.2" text-anchor="start" >heat</text>
<text transform="translate(317.20,253.80) scale(1.09,1)" font-size="17.8" style="font-family:'Liberation Serif',serif">Σ</text><text transform="translate(328.00,245.90) scale(0.9,1)" font-size="11.2" text-anchor="start" >F<tspan dx="0.8">,</tspan><tspan dx="0.7">P</tspan></text><text transform="translate(328.30,260.50) scale(0.975,1)" font-size="11.2" text-anchor="start" >heat</text>
<line x1="293.9" y1="217" x2="281.8" y2="191" stroke="#222" stroke-width="0.85"/>
<path d="M279.25,185.6 L284.3,191.2 L280.3,193.05 Z" fill="#000"/>
</svg>
</body></html>
